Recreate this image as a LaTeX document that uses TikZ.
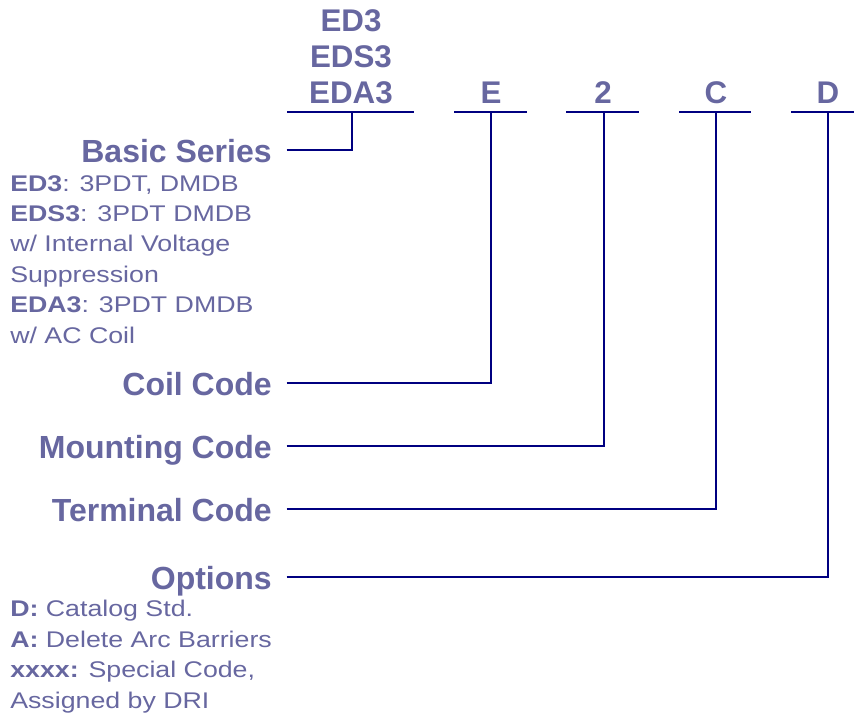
\documentclass[tikz,border=0pt]{standalone}
\usepackage{fontspec}
\setmainfont{Liberation Sans}
\newfontfamily\descfont[FakeStretch=1.18]{Liberation Sans}
\definecolor{txtblue}{HTML}{6767A0}
\definecolor{linenavy}{HTML}{000080}

\tikzset{
  lbl/.style={font=\fontsize{23.5}{26.8}\selectfont\bfseries, text=txtblue, inner sep=0pt},
  partlbl/.style={lbl, font=\fontsize{24}{28}\selectfont\bfseries, anchor=east, text height=18pt, text depth=0pt},
  desc/.style={font=\descfont\fontsize{17}{22.8}\selectfont, text=txtblue, inner sep=0pt, align=left},
  lead/.style={draw=linenavy, line width=2pt}
}

\begin{document}
\begin{tikzpicture}[x=0.75pt,y=-0.75pt]
\useasboundingbox (0,0) rectangle (854,719);

% model code on top
\node[lbl, align=center, anchor=base] (sercode) at (351,103) {ED3\\EDS3\\EDA3};
\coordinate (serbar) at (352,112);
\draw[lead] (287,112) -- (414,112);

\foreach \name/\txt/\x/\l/\r in {coil/E/491/454/527, mount/2/603/566/639, term/C/716/679/751, opt/D/828/791/854}
{
  \node[lbl, anchor=base] (\name code) at (\x,103) {\txt};
  \draw[lead] (\l,112) -- (\r,112);
}
\coordinate (coilbar) at (491,112);
\coordinate (mountbar) at (604,112);
\coordinate (termbar) at (716,112);
\coordinate (optbar) at (828,112);

% part labels
\node[partlbl] (serlbl) at (272,150) {Basic Series};
\node[partlbl] (coillbl) at (272,383) {Coil Code};
\node[partlbl] (mountlbl) at (272,446) {Mounting Code};
\node[partlbl] (termlbl) at (272,509) {Terminal Code};
\node[partlbl] (optlbl) at (272,577) {Options};

\foreach \lbl/\bar in {serlbl/serbar, coillbl/coilbar, mountlbl/mountbar, termlbl/termbar, optlbl/optbar}
  \draw[lead] ([xshift=11pt]\lbl.east) -| (\bar);

% descriptions
\node[desc, anchor=base west] (serdesc) at (10,343)
  {\textbf{ED3}: 3PDT, DMDB\\\textbf{EDS3}: 3PDT DMDB\\w/ Internal Voltage\\Suppression\\\textbf{EDA3}: 3PDT DMDB\\w/ AC Coil};
\node[desc, anchor=base west] (optdesc) at (10,708)
  {\textbf{D:} Catalog Std.\\\textbf{A:} Delete Arc Barriers\\\textbf{xxxx:} Special Code,\\Assigned by DRI};
\end{tikzpicture}
\end{document}
